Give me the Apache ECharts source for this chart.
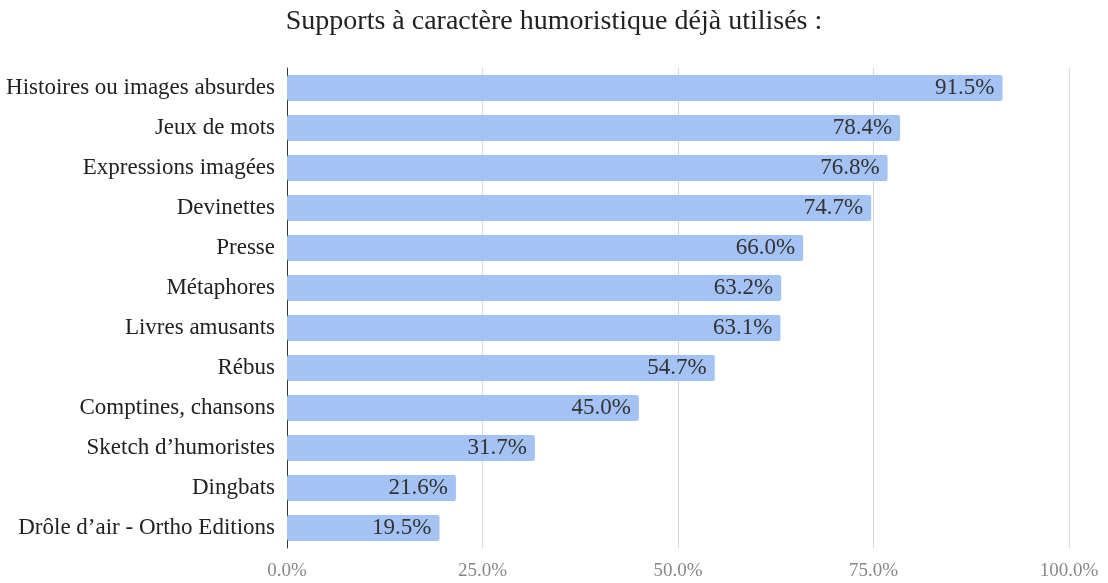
<!DOCTYPE html>
<html><head><meta charset="utf-8">
<script src="https://cdn.jsdelivr.net/npm/echarts@6/dist/echarts.min.js"></script>
<style>html,body{margin:0;padding:0;background:#fff}#c{width:1108px;height:583px}</style>
</head><body><div id="c"></div>
<script>
const categories = ["Histoires ou images absurdes","Jeux de mots","Expressions imagées","Devinettes","Presse","Métaphores","Livres amusants","Rébus","Comptines, chansons","Sketch d’humoristes","Dingbats","Drôle d’air - Ortho Editions"];
const values = [91.5,78.4,76.8,74.7,66.0,63.2,63.1,54.7,45.0,31.7,21.6,19.5];
const titleText = "Supports à caractère humoristique déjà utilisés :";
const FONT = "'Liberation Serif','DejaVu Serif',serif";
const chart = echarts.init(document.getElementById('c'));
chart.setOption({
  animation:false,
  title:{text:titleText,left:'center',top:3,textStyle:{fontFamily:FONT,fontWeight:'normal',fontSize:28,color:'#222'}},
  grid:{left:287,right:39,top:68,bottom:35,containLabel:false},
  xAxis:{type:'value',min:0,max:100,interval:25,
    axisLabel:{formatter:v=>v.toFixed(1)+'%',fontFamily:FONT,fontSize:19,color:'#888',margin:14},
    axisLine:{show:false},axisTick:{show:false},
    splitLine:{lineStyle:{color:'#d9d9d9',width:1}}},
  yAxis:{type:'category',data:categories,inverse:true,
    axisLine:{show:true,lineStyle:{color:'#333',width:1}},axisTick:{show:false},
    axisLabel:{fontFamily:FONT,fontSize:23,color:'#222',margin:12}},
  series:[{type:'bar',data:values,barWidth:26,
    itemStyle:{color:'#a4c2f4',borderRadius:2},
    label:{show:true,position:'insideRight',distance:8,formatter:p=>p.value.toFixed(1)+'%',fontFamily:FONT,fontSize:23,color:'#333'}}]
});
</script></body></html>
